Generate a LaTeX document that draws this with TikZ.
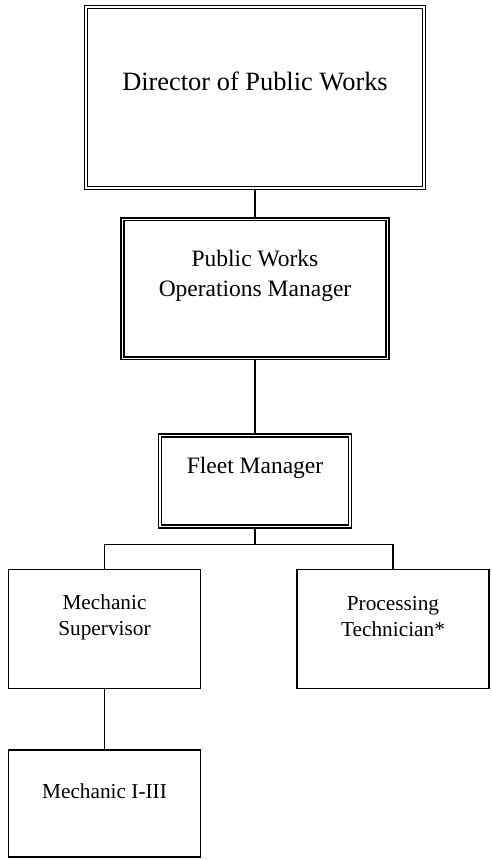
\documentclass[tikz,border=0pt]{standalone}
\usepackage{fontspec}
\setmainfont{Liberation Serif}
\usepackage{tikz}
\usetikzlibrary{positioning}
\tikzset{node distance = 27pt}

\begin{document}
\begin{tikzpicture}[x=1pt, y=-1pt, line width=1.7pt,
dbl_box/.style={rectangle, draw=black, fill=white, double, double distance=1.4pt, line width=1.4pt, inner sep=0pt, outer sep=2.1pt},
sgl_box/.style={rectangle, draw=black, fill=white, line width=1.8pt, inner sep=0pt, outer sep=0.9pt, minimum width=192pt, minimum height=119pt},
txt/.style={align=center, inner sep=0pt, font=\fontsize{21.3}{26}\selectfont}]
    \useasboundingbox (0,0) rectangle (491,860);

    \node[dbl_box, minimum width=338pt, minimum height=181pt] (director) at (255,97.5) {};
    \node[dbl_box, below=of director, minimum width=265pt, minimum height=139pt] (opsmgr) {};
    \node[dbl_box, below=73pt of opsmgr, minimum width=190pt, minimum height=91pt] (fleet) {};
    \node[sgl_box] (mechsup) at (104.5,629) {};
    \node[sgl_box] (proctech) at (393,629) {};
    \node[sgl_box, below=60pt of mechsup, minimum height=107pt] (mechanic) {};

    \node[txt, font=\fontsize{26.4}{30}\selectfont] (director_txt) at ([yshift=16pt]director.center) {Director of Public Works};
    \node[txt, font=\fontsize{23.5}{30}\selectfont] (opsmgr_txt) at ([yshift=12.5pt]opsmgr.center) {Public Works\\Operations Manager};
    \node[txt, font=\fontsize{23.5}{30}\selectfont] (fleet_txt) at ([yshift=13pt]fleet.center) {Fleet Manager};
    \node[txt] (mechsup_txt) at ([yshift=12pt]mechsup.center) {Mechanic\\Supervisor};
    \node[txt] (proctech_txt) at ([yshift=12pt]proctech.center) {Processing\\Technician*};
    \node[txt] (mechanic_txt) at ([yshift=13pt]mechanic.center) {Mechanic I-III};

    \draw (director) -- (opsmgr);
    \draw (opsmgr) -- (fleet);
    \draw (fleet.south) -- ++(0,16) coordinate (split);
    \draw (split) -| (mechsup.north);
    \draw (split) -| (proctech.north);
    \draw (mechsup) -- (mechanic);
\end{tikzpicture}
\end{document}
